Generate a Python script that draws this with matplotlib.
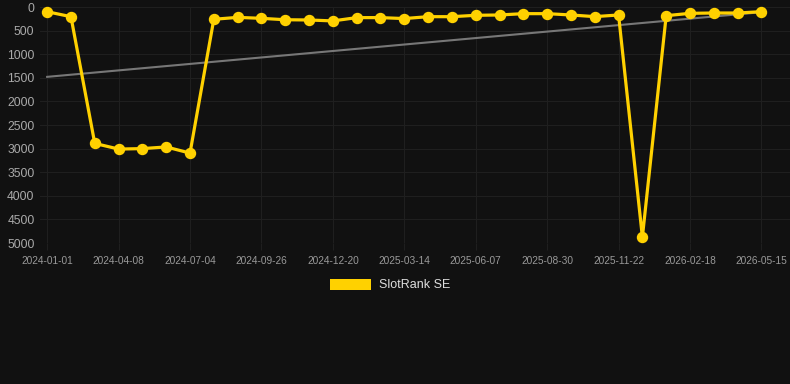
import numpy as np
import matplotlib.pyplot as plt
from matplotlib.patches import Patch

plt.rcParams['font.family'] = ['Liberation Sans', 'DejaVu Sans']

# rank per point (lower is better, axis inverted)
rank_values = [100, 205, 2890, 3010, 3000, 2965, 3095, 260, 220, 240, 270,
               275, 295, 225, 225, 245, 205, 205, 176, 169, 141, 141, 169,
               204, 169, 4875, 184, 134, 127, 127, 99]
# every third point carries a date label
tick_dates = ['2024-01-01', '2024-04-08', '2024-07-04', '2024-09-26',
              '2024-12-20', '2025-03-14', '2025-06-07', '2025-08-30',
              '2025-11-22', '2026-02-18', '2026-05-15']
trend_values = [1480, 110]   # grey trend line, first and last point
series_name = 'SlotRank SE'

bg = '#111111'
gold = '#FFD100'

fig = plt.figure(figsize=(7.9, 3.84), dpi=100, facecolor=bg)
ax = fig.add_axes([40 / 790, 1 - 243 / 384, 750 / 790, 236 / 384])
ax.set_facecolor(bg)

x = np.arange(len(rank_values))
ax.plot([x[0], x[-1]], trend_values, color='#777777', linewidth=1.5, zorder=2)
ax.plot(x, rank_values, color=gold, linewidth=2.3, marker='o', markersize=7.2,
        solid_joinstyle='miter', clip_on=False, zorder=3)

ax.set_xlim(-0.3, 31.2)
ax.set_ylim(5000, 0)
ax.set_yticks(np.arange(0, 5001, 500))
ax.set_xticks(x[::3])
ax.set_xticklabels(tick_dates)

ax.grid(True, color='#1f1f1f', linewidth=0.8)
ax.set_axisbelow(True)
for s in ax.spines.values():
    s.set_visible(False)
ax.tick_params(axis='y', length=0, pad=4, labelsize=8.7, labelcolor='#aaaaaa')
ax.tick_params(axis='x', length=5, color='#1f1f1f', pad=4, labelsize=7.3, labelcolor='#999999')

fig.legend(handles=[Patch(facecolor=gold, edgecolor='none')], labels=[series_name],
           loc='center', bbox_to_anchor=(390 / 790, 1 - 285 / 384), frameon=False,
           fontsize=9, labelcolor='#dddddd', handlelength=3.3, handleheight=1.0,
           handletextpad=0.6)

fig.savefig('out.png', dpi=100, facecolor=bg)
